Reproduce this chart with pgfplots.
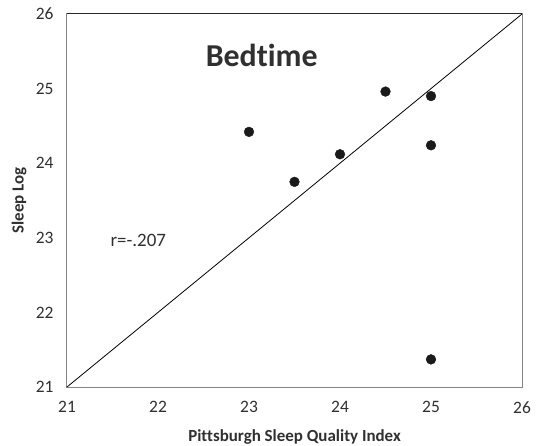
\documentclass[border=0pt]{standalone}
\usepackage{fontspec}
\setmainfont{Carlito}[Ligatures=NoCommon]
\usepackage{pgfplots}
\pgfplotsset{compat=1.18}
\usetikzlibrary{calc}

\definecolor{axisgray}{HTML}{868686}
\definecolor{txt}{HTML}{303030}
\definecolor{dot}{HTML}{1A1A1A}

\pgfplotstableread{
x     y
23.0  24.42
23.5  23.75
24.0  24.12
24.5  24.96
25.0  24.90
25.0  24.24
25.0  21.37
}\bedtime

\begin{document}
\begin{tikzpicture}
\begin{axis}[
  scale only axis,
  width=455bp, height=373bp,
  xmin=21, xmax=26, ymin=21, ymax=26,
  xtick={21,...,26}, ytick={21,...,26},
  major tick length=0pt,
  axis line style={draw=axisgray, line width=1bp},
  /pgf/number format/assume math mode=true,
  tick label style={font=\fontsize{17.5}{20}\selectfont, text=txt},
  xticklabel style={yshift=-11bp},
  yticklabel style={xshift=-10bp},
  xlabel={Pittsburgh Sleep Quality Index},
  ylabel={Sleep Log},
  label style={font=\bfseries\fontsize{17}{20}\selectfont, text=txt},
  xlabel style={at={(axis description cs:0.5,-0.134)}, anchor=center},
  ylabel style={at={(axis description cs:-0.105,0.5)}, anchor=center, rotate=0},
  clip=false,
]
% identity reference line
\addplot[black, line width=0.8bp] coordinates {(21,21) (26,26)};
% observations
\addplot[only marks, mark=*, mark size=4.9bp, draw=dot, fill=dot] table {\bedtime};
\draw[txt!80!black, line width=1bp] (rel axis cs:0,1) -- (rel axis cs:1,1);
\node[font=\bfseries\fontsize{32}{38}\selectfont, text=txt] at (axis cs:23.14,25.45) {Bedtime};
\node[font=\fontsize{19}{23}\selectfont, text=txt, anchor=west] at (axis cs:21.44,22.96) {r=-.207};
\end{axis}
\pgfresetboundingbox
\path[use as bounding box]
  ($(current axis.south west)+(-67bp,-59bp)$) rectangle
  ($(current axis.north east)+(18bp,14bp)$);
\end{tikzpicture}
\end{document}
